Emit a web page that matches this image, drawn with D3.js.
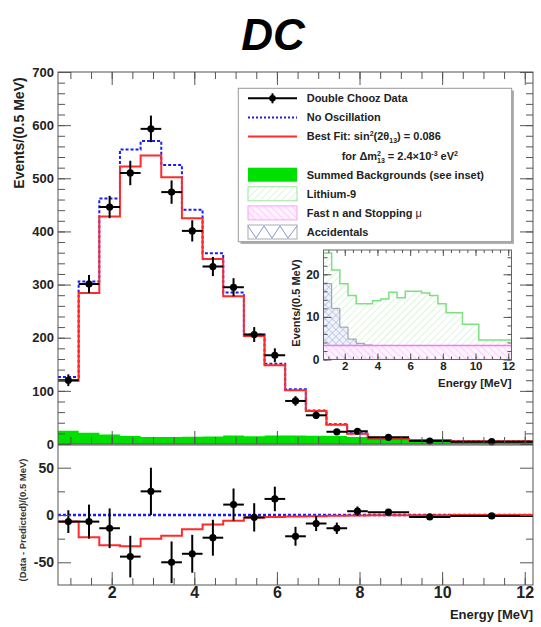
<!DOCTYPE html>
<html lang="en">
<head>
<meta charset="UTF-8">
<title>DC</title>
<script src="https://d3js.org/d3.v7.min.js"></script>
<style>
  body { margin: 0; background: #fff; }
  svg text { font-family: "Liberation Sans", Arial, sans-serif; }
</style>
</head>
<body>
<svg id="chart" width="541" height="627"></svg>
<script>
// energy bins in MeV; the last three are wider but still shown per 0.5 MeV
var binEdges = [0.7, 1.2, 1.7, 2.2, 2.7, 3.2, 3.7, 4.2, 4.7, 5.2, 5.7, 6.2, 6.7, 7.2, 7.7, 8.2, 9.2, 10.2, 12.2];

// main panel, events / 0.5 MeV
var dataCounts    = [120, 301, 446, 510, 593, 474, 401, 334, 295, 206, 167, 81, 54, 23, 24, 12.5, 5.6, 4.4];
var dataErrors    = [11, 17, 21, 23, 25, 22, 20, 18, 17, 14, 13, 9, 7, 5, 5, 3.5, 2.4, 2.1];
var noOscillation = [126, 306, 462, 554, 570, 525, 441, 359, 285, 206, 151, 103, 63, 37, 20, 9.5, 7.6, 5.4];
var bestFit       = [119, 284, 428, 522, 543, 502, 425, 348, 278, 203, 148, 101, 62, 36, 19.5, 9.3, 7.4, 5.3];

// lower panel, data - predicted
var residData   = [-7, -7, -14, -44, 25, -50, -41, -24, 11, -2.5, 17, -22.5, -9, -14, 4, 3, -2, -1];
var residErrors = [12, 18, 21, 22, 25, 22, 20, 19, 17, 15, 13, 10, 8, 6, 5, 3, 2.4, 2];
var residFit    = [-7, -23.5, -32, -33, -25, -22, -15, -10, -6, -3, -2, -1.5, -1.2, -0.8, -0.5, -0.3, -0.2, -0.1];

// backgrounds (inset), events / 0.5 MeV
var summedBkg   = [25, 21, 17.8, 15, 13.1, 13.1, 13.8, 14.2, 15.8, 14.5, 16, 16, 15.6, 15, 13.1, 11, 8.3, 4.6];
var accidentals = [17.8, 12, 7.6, 4.8, 3.8, 3.4, 0.6, 0.3, 0.2, 0.1, 0.1, 0.1, 0, 0, 0, 0, 0, 0];
var fastN       = [3.3, 3.3, 3.3, 3.3, 3.3, 3.3, 3.3, 3.3, 3.3, 3.3, 3.3, 3.3, 3.3, 3.3, 3.3, 3.3, 3.3, 3.3];

// tick labels
var mainYTicks  = [0, 100, 200, 300, 400, 500, 600, 700];
var resYTicks   = [-50, 0, 50];
var energyTicks = [2, 4, 6, 8, 10, 12];
var insetYTicks = [0, 10, 20];

var svg = d3.select("#chart");

var x = d3.scaleLinear().domain([0.7, 12.2]).range([58, 533]);
var yMain = d3.scaleLinear().domain([0, 700]).range([444, 72]);
var yRes = d3.scaleLinear().domain([-74, 74]).range([585, 445]);
var xIn = d3.scaleLinear().domain([0.7, 12.2]).range([323.5, 511.5]);
var yIn = d3.scaleLinear().domain([0, 25.7]).range([359.5, 250]);

var GREEN = "#00e000", BLUE = "#1a1aff", RED = "#ff2b2b";

// hatch patterns for the inset
var defs = svg.append("defs");
function hatch(id, bg, color, angle, cross) {
  var p = defs.append("pattern").attr("id", id)
    .attr("patternUnits", "userSpaceOnUse")
    .attr("width", 5).attr("height", 5)
    .attr("patternTransform", "rotate(" + angle + ")");
  p.append("rect").attr("width", 5).attr("height", 5).attr("fill", bg);
  p.append("line").attr("x1", 0).attr("y1", 0).attr("x2", 0).attr("y2", 5)
    .attr("stroke", color).attr("stroke-width", 1);
  if (cross) p.append("line").attr("x1", 0).attr("y1", 0).attr("x2", 5).attr("y2", 0)
    .attr("stroke", color).attr("stroke-width", 1);
}
hatch("liHatch", "#ffffff", "#b5ebb5", 45, false);
hatch("pinkHatch", "#fff2ff", "#ffa0ff", -45, false);
hatch("accHatch", "#f1f3fb", "#9aa8d8", 45, true);

function steps(vals) {
  var pts = vals.map(function(v, i) { return [binEdges[i], v]; });
  pts.push([binEdges[binEdges.length - 1], vals[vals.length - 1]]);
  return pts;
}
function centers() {
  return binEdges.slice(0, -1).map(function(e, i) { return (e + binEdges[i + 1]) / 2; });
}

function axis(orient, scale, vals, size, tx, ty, fmt, fontSize, pad) {
  var a = orient(scale).tickValues(vals).tickSize(size).tickPadding(pad || 4)
    .tickFormat(fmt || "");
  var g = svg.append("g").attr("transform", "translate(" + tx + "," + ty + ")").call(a);
  g.select(".domain").remove();
  g.selectAll(".tick line").attr("stroke", "#555");
  g.attr("font-family", "Liberation Sans, Arial, sans-serif")
    .attr("font-size", fontSize || 13).attr("font-weight", "bold");
  g.selectAll(".tick text").attr("fill", "#222");
  return g;
}
var label = function(d) { return String(d); };

// ---------- main panel ----------
svg.append("path")
  .attr("d", d3.area().curve(d3.curveStepAfter)
    .x(function(d) { return x(d[0]); })
    .y0(yMain(0)).y1(function(d) { return yMain(d[1]); })(steps(summedBkg)))
  .attr("fill", GREEN);

var mainLine = d3.line().curve(d3.curveStepAfter)
  .x(function(d) { return x(d[0]); }).y(function(d) { return yMain(d[1]); });

svg.append("path").attr("d", mainLine(steps(noOscillation)))
  .attr("fill", "none").attr("stroke", BLUE).attr("stroke-width", 2).attr("stroke-dasharray", "3,2");
svg.append("path").attr("d", mainLine(steps(bestFit)))
  .attr("fill", "none").attr("stroke", RED).attr("stroke-width", 2);

function points(yScale, vals, errs) {
  var mids = centers();
  var g = svg.append("g");
  var pt = g.selectAll("g").data(vals).enter().append("g");
  pt.append("line")
    .attr("x1", function(d, i) { return x(binEdges[i]); })
    .attr("x2", function(d, i) { return x(binEdges[i + 1]); })
    .attr("y1", function(d) { return yScale(d); })
    .attr("y2", function(d) { return yScale(d); })
    .attr("stroke", "#000").attr("stroke-width", 2);
  pt.append("line")
    .attr("x1", function(d, i) { return x(mids[i]); })
    .attr("x2", function(d, i) { return x(mids[i]); })
    .attr("y1", function(d, i) { return yScale(d + errs[i]); })
    .attr("y2", function(d, i) { return yScale(d - errs[i]); })
    .attr("stroke", "#000").attr("stroke-width", 2);
  pt.append("circle")
    .attr("cx", function(d, i) { return x(mids[i]); })
    .attr("cy", function(d) { return yScale(d); })
    .attr("r", 3.6).attr("fill", "#000");
}
points(yMain, dataCounts, dataErrors);

// frame and ticks
svg.append("rect").attr("x", 58).attr("y", 72).attr("width", 475).attr("height", 372)
  .attr("fill", "none").attr("stroke", "#555");
axis(d3.axisLeft, yMain, mainYTicks, -13, 58, 0, label, 13);
axis(d3.axisLeft, yMain, d3.range(0, 701, 20), -7, 58, 0);
axis(d3.axisRight, yMain, mainYTicks, -13, 533, 0);
axis(d3.axisRight, yMain, d3.range(0, 701, 20), -7, 533, 0);
axis(d3.axisBottom, x, energyTicks, -13, 0, 444);
axis(d3.axisBottom, x, d3.range(1, 12.1, 0.5), -7, 0, 444);
axis(d3.axisTop, x, energyTicks, -13, 0, 72);
axis(d3.axisTop, x, d3.range(1, 12.1, 0.5), -7, 0, 72);

svg.append("text").attr("transform", "translate(24,133) rotate(-90)")
  .attr("text-anchor", "middle").attr("font-size", 14).attr("font-weight", "bold")
  .attr("fill", "#222").text("Events/(0.5 MeV)");

svg.append("text").attr("x", 273).attr("y", 50).attr("text-anchor", "middle")
  .attr("font-size", 44).attr("font-weight", "bold").attr("font-style", "italic")
  .attr("fill", "#000").text("DC");

// ---------- legend ----------
var lg = svg.append("g");
lg.append("rect").attr("x", 240.5).attr("y", 90.5).attr("width", 273.4).attr("height", 153.4).attr("fill", "#aaa");
lg.append("rect").attr("x", 238.3).attr("y", 88.3).attr("width", 273.4).attr("height", 153.4)
  .attr("fill", "#fff").attr("stroke", "#999");
var rowY = function(k) { return 98.3 + k * 19.1; };
var gx0 = 248, gx1 = 297, tx = 306.7;

lg.append("line").attr("x1", gx0).attr("x2", gx1).attr("y1", rowY(0)).attr("y2", rowY(0)).attr("stroke", "#000").attr("stroke-width", 2);
lg.append("line").attr("x1", 272.5).attr("x2", 272.5).attr("y1", rowY(0) - 5).attr("y2", rowY(0) + 5).attr("stroke", "#000").attr("stroke-width", 2);
lg.append("circle").attr("cx", 272.5).attr("cy", rowY(0)).attr("r", 3.3).attr("fill", "#000");
lg.append("line").attr("x1", gx0).attr("x2", gx1).attr("y1", rowY(1)).attr("y2", rowY(1)).attr("stroke", BLUE).attr("stroke-width", 2).attr("stroke-dasharray", "2,2");
lg.append("line").attr("x1", gx0).attr("x2", gx1).attr("y1", rowY(2)).attr("y2", rowY(2)).attr("stroke", RED).attr("stroke-width", 2);
lg.append("rect").attr("x", gx0).attr("y", rowY(4) - 7).attr("width", gx1 - gx0).attr("height", 14).attr("fill", GREEN);
lg.append("rect").attr("x", gx0).attr("y", rowY(5) - 7).attr("width", gx1 - gx0).attr("height", 14).attr("fill", "url(#liHatch)").attr("stroke", "#9de49d");
lg.append("rect").attr("x", gx0).attr("y", rowY(6) - 7).attr("width", gx1 - gx0).attr("height", 14).attr("fill", "url(#pinkHatch)").attr("stroke", "#ff9cff");
lg.append("rect").attr("x", gx0).attr("y", rowY(7) - 7).attr("width", gx1 - gx0).attr("height", 14).attr("fill", "#fff").attr("stroke", "#aaa");
lg.append("path").attr("d", "M" + gx0 + "," + (rowY(7) - 6) + "l8,12l8,-12l8,12l8,-12l8,12l9,-12")
  .attr("fill", "none").attr("stroke", "#7f95d0").attr("stroke-width", 1);

function ltext(k, xx) {
  return lg.append("text").attr("x", xx || tx).attr("y", rowY(k)).attr("dy", "0.36em")
    .attr("font-size", 11).attr("font-weight", "bold").attr("fill", "#222");
}
ltext(0).text("Double Chooz Data");
ltext(1).text("No Oscillation");
var t2 = ltext(2);
t2.append("tspan").text("Best Fit: sin");
t2.append("tspan").attr("dy", -4).attr("font-size", 7).text("2");
t2.append("tspan").attr("dy", 4).text("(2\u03b8");
t2.append("tspan").attr("dy", 3).attr("font-size", 7).text("13");
t2.append("tspan").attr("dy", -3).text(") = 0.086");
var t3 = ltext(3, 341.7);
t3.append("tspan").text("for \u0394m");
t3.append("tspan").attr("dy", -4).attr("font-size", 7).text("2");
t3.append("tspan").attr("dx", -4).attr("dy", 7).attr("font-size", 7).text("13");
t3.append("tspan").attr("dy", -3).text(" = 2.4\u00d710");
t3.append("tspan").attr("dy", -4).attr("font-size", 7).text("-3");
t3.append("tspan").attr("dy", 4).text(" eV");
t3.append("tspan").attr("dy", -4).attr("font-size", 7).text("2");
ltext(4).text("Summed Backgrounds (see inset)");
ltext(5).text("Lithium-9");
var t6 = ltext(6);
t6.append("tspan").text("Fast n and Stopping ");
t6.append("tspan").attr("font-weight", "normal").text("\u03bc");
ltext(7).text("Accidentals");

// ---------- inset ----------
var inArea = function(vals) {
  return d3.area().curve(d3.curveStepAfter)
    .x(function(d) { return xIn(d[0]); })
    .y0(yIn(0)).y1(function(d) { return yIn(d[1]); })(steps(vals));
};
var inLine = d3.line().curve(d3.curveStepAfter)
  .x(function(d) { return xIn(d[0]); }).y(function(d) { return yIn(d[1]); });

svg.append("path").attr("d", inArea(summedBkg)).attr("fill", "url(#liHatch)");
svg.append("path").attr("d", inLine(steps(summedBkg))).attr("fill", "none").attr("stroke", "#7ee07e").attr("stroke-width", 1.5);
svg.append("path").attr("d", inArea(accidentals)).attr("fill", "url(#accHatch)");
svg.append("path").attr("d", inLine(steps(accidentals))).attr("fill", "none").attr("stroke", "#999").attr("stroke-width", 1);
svg.append("path").attr("d", inArea(fastN)).attr("fill", "url(#pinkHatch)").attr("opacity", 0.85);
svg.append("path").attr("d", inLine(steps(fastN))).attr("fill", "none").attr("stroke", "#ff70ff").attr("stroke-width", 1.5);

svg.append("rect").attr("x", 323.5).attr("y", 250).attr("width", 188).attr("height", 109.5)
  .attr("fill", "none").attr("stroke", "#666");
axis(d3.axisLeft, yIn, insetYTicks, -8, 323.5, 0, label, 12, 4);
axis(d3.axisLeft, yIn, d3.range(0, 25.7, 2), -4, 323.5, 0);
axis(d3.axisRight, yIn, insetYTicks, -8, 511.5, 0);
axis(d3.axisRight, yIn, d3.range(0, 25.7, 2), -4, 511.5, 0);
axis(d3.axisBottom, xIn, energyTicks, -6, 0, 359.5, label, 11.5, 2);
axis(d3.axisBottom, xIn, d3.range(1, 12.1, 0.5), -3, 0, 359.5);
axis(d3.axisTop, xIn, energyTicks, -6, 0, 250);
axis(d3.axisTop, xIn, d3.range(1, 12.1, 0.5), -3, 0, 250);

svg.append("text").attr("transform", "translate(300,303) rotate(-90)")
  .attr("text-anchor", "middle").attr("font-size", 11).attr("font-weight", "bold")
  .attr("fill", "#222").text("Events/(0.5 MeV)");
svg.append("text").attr("x", 511.5).attr("y", 387).attr("text-anchor", "end")
  .attr("font-size", 11.5).attr("font-weight", "bold").attr("fill", "#222").text("Energy [MeV]");

// ---------- lower panel ----------
svg.append("line").attr("x1", 58).attr("x2", 533).attr("y1", yRes(0)).attr("y2", yRes(0))
  .attr("stroke", BLUE).attr("stroke-width", 2.5).attr("stroke-dasharray", "3,2");
svg.append("path")
  .attr("d", d3.line().curve(d3.curveStepAfter)
    .x(function(d) { return x(d[0]); }).y(function(d) { return yRes(d[1]); })(steps(residFit)))
  .attr("fill", "none").attr("stroke", RED).attr("stroke-width", 2);
points(yRes, residData, residErrors);

svg.append("rect").attr("x", 58).attr("y", 445).attr("width", 475).attr("height", 140)
  .attr("fill", "none").attr("stroke", "#555");
axis(d3.axisLeft, yRes, resYTicks, -13, 58, 0, label, 14);
axis(d3.axisLeft, yRes, [-25, 25], -7, 58, 0);
axis(d3.axisRight, yRes, resYTicks, -13, 533, 0);
axis(d3.axisRight, yRes, [-25, 25], -7, 533, 0);
axis(d3.axisBottom, x, energyTicks, -13, 0, 585, label, 16, 2);
axis(d3.axisBottom, x, d3.range(1, 12.1, 0.5), -7, 0, 585);

svg.append("text").attr("transform", "translate(26,520) rotate(-90)")
  .attr("text-anchor", "middle").attr("font-size", 9.5).attr("font-weight", "bold")
  .attr("fill", "#333").text("(Data - Predicted)/(0.5 MeV)");
svg.append("text").attr("x", 533).attr("y", 619).attr("text-anchor", "end")
  .attr("font-size", 13).attr("font-weight", "bold").attr("fill", "#222").text("Energy [MeV]");
</script>
</body>
</html>
